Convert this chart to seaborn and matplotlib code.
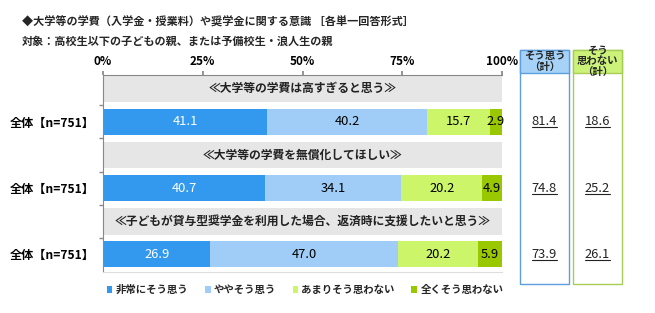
import matplotlib
matplotlib.use('Agg')
import matplotlib.pyplot as plt
import seaborn as sns
import pandas as pd
from matplotlib.patches import Rectangle, Patch
from matplotlib.lines import Line2D
from matplotlib.transforms import blended_transform_factory

sns.set_theme(style='white')
plt.rcParams['font.family'] = ['Noto Sans CJK JP', 'DejaVu Sans']

# ---------------- data ----------------
title = "◆大学等の学費（入学金・授業料）や奨学金に関する意識 ［各単一回答形式］"
subtitle = "対象：高校生以下の子どもの親、または予備校生・浪人生の親"
questions = [
    "≪大学等の学費は高すぎると思う≫",
    "≪大学等の学費を無償化してほしい≫",
    "≪子どもが貸与型奨学金を利用した場合、返済時に支援したいと思う≫",
]
row_labels = ["全体【n=751】", "全体【n=751】", "全体【n=751】"]
categories = ["非常にそう思う", "ややそう思う", "あまりそう思わない", "全くそう思わない"]
very = [41.1, 40.7, 26.9]
some = [40.2, 34.1, 47.0]
notmuch = [15.7, 20.2, 20.2]
notatall = [2.9, 4.9, 5.9]
agree_total = [81.4, 74.8, 73.9]
disagree_total = [18.6, 25.2, 26.1]
agree_header = "そう思う\n（計）"
disagree_header = "そう\n思わない\n（計）"
xticks = [0, 25, 50, 75, 100]
xticklabels = ["0%", "25%", "50%", "75%", "100%"]

colors = ["#3399ee", "#9fcdf7", "#ccf56a", "#99c800"]
label_colors = ["white", "black", "black", "black"]

W, H = 655, 313
fig = plt.figure(figsize=(W / 100, H / 100), dpi=100)

def fx(px):
    return px / W

def fy(py):
    return 1 - py / H

ax = fig.add_axes([fx(103), fy(272), fx(502) - fx(103), fy(75) - fy(272)])

series = [very, some, notmuch, notatall]
n = len(questions)
bar_pos = [2 * i + 1 for i in range(n)]
band_pos = [2 * i for i in range(n)]

# cumulative values
cums = []
run = [0.0] * n
for s in series:
    run = [r + v for r, v in zip(run, s)]
    cums.append(list(run))

# background bands (question headers)
ax.barh(band_pos, [100] * n, height=0.8, color="#e6e6e6", linewidth=0, zorder=0)

# stacked bars: draw cumulative totals from the largest back
for k in range(len(series) - 1, -1, -1):
    df = pd.DataFrame({"value": cums[k], "pos": bar_pos})
    sns.barplot(data=df, x="value", y="pos", orient="y", native_scale=True,
                color=colors[k], width=0.39, errorbar=None, ax=ax,
                linewidth=0, saturation=1, zorder=2)

# segment labels
for k, s in enumerate(series):
    for i in range(n):
        left = cums[k][i] - s[i]
        ax.text(left + s[i] / 2, bar_pos[i], f"{s[i]:.1f}", ha="center", va="center",
                fontsize=9.3, color=label_colors[k], zorder=3)

# question texts
for i, q in enumerate(questions):
    ax.text(50, band_pos[i], q, ha="center", va="center", fontsize=8.5,
            fontweight="bold", color="#222222", zorder=3)

ax.set_xlim(0, 100)
ax.set_ylim(5.53, -0.41)
ax.xaxis.tick_top()
ax.set_xticks(xticks)
ax.set_xticklabels(xticklabels, fontsize=8.5, fontweight="bold")
ax.set_yticks(bar_pos)
ax.set_yticklabels(row_labels, fontsize=8.7, fontweight="bold")
ax.set_yticks([0.5, 1.5, 2.5, 3.5, 4.5], minor=True)
ax.tick_params(axis="x", top=True, bottom=False, length=3, color="#888888",
               pad=2, labelcolor="black")
ax.tick_params(axis="y", which="major", length=0, pad=6, labelcolor="black")
ax.tick_params(axis="y", which="minor", left=True, length=3, color="#888888")
ax.set_xlabel("")
ax.set_ylabel("")
for side in ["top", "left"]:
    ax.spines[side].set_color("#888888")
    ax.spines[side].set_linewidth(0.8)
ax.spines["right"].set_visible(False)
ax.spines["bottom"].set_color("#dddddd")
ax.spines["bottom"].set_linewidth(0.8)

# titles
fig.text(fx(22), fy(22), title, ha="left", va="center", fontsize=8, fontweight="bold")
fig.text(fx(22), fy(41), subtitle, ha="left", va="center", fontsize=8, fontweight="bold")

# right summary boxes
box_specs = [
    (520, 569, "#a6d2f7", "#5c9fdc", agree_header, agree_total),
    (573, 622, "#ccf27a", "#a9cc55", disagree_header, disagree_total),
]
trans = blended_transform_factory(fig.transFigure, ax.transData)
texts = []
for x0, x1, fill, edge, header, vals in box_specs:
    fig.patches.append(Rectangle((fx(x0), fy(284)), fx(x1) - fx(x0), fy(50) - fy(284),
                                 transform=fig.transFigure, facecolor="white",
                                 edgecolor=edge, linewidth=1.0))
    fig.patches.append(Rectangle((fx(x0), fy(73)), fx(x1) - fx(x0), fy(50) - fy(73),
                                 transform=fig.transFigure, facecolor=fill,
                                 edgecolor=edge, linewidth=1.0))
    fig.text(fx((x0 + x1) / 2), fy(61.5), header, ha="center", va="center",
             fontsize=7.5, fontweight="bold", linespacing=1.05)
    for i in range(n):
        t = fig.text(fx((x0 + x1) / 2), 0, f"{vals[i]:.1f}", transform=trans,
                     ha="center", va="center", fontsize=9.3, color="#222222")
        t.set_position((fx((x0 + x1) / 2), bar_pos[i]))
        texts.append(t)

fig.canvas.draw()
renderer = fig.canvas.get_renderer()
for t in texts:
    bb = t.get_window_extent(renderer)
    y = (bb.y0 + 1) / H
    fig.lines.append(Line2D([bb.x0 / W, bb.x1 / W], [y, y], transform=fig.transFigure,
                            color="#222222", linewidth=0.8))

# legend
handles = [Patch(facecolor=c, edgecolor="none") for c in colors]
fig.legend(handles, categories, loc="center", bbox_to_anchor=(fx(305), fy(290)),
           ncol=4, frameon=False, handlelength=0.55, handleheight=0.55,
           handletextpad=0.3, columnspacing=1.6,
           prop={"size": 7.5, "weight": "bold", "family": ["Noto Sans CJK JP", "DejaVu Sans"]})

fig.savefig("out.png", dpi=100)
